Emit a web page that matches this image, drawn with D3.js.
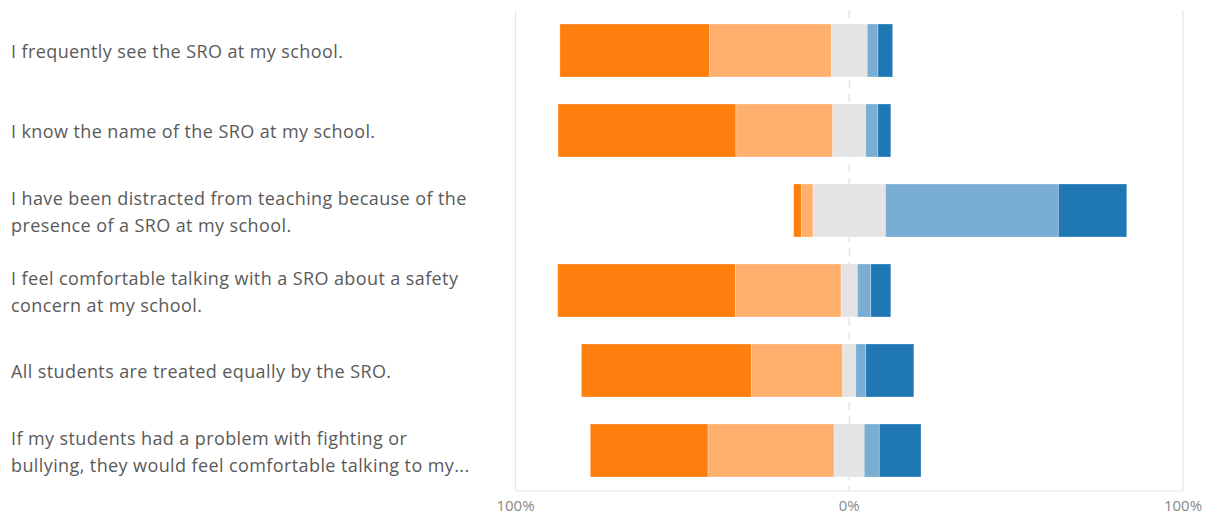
<!DOCTYPE html>
<html>
<head>
<meta charset="utf-8">
<script src="https://cdn.jsdelivr.net/npm/d3@7"></script>
<style>
  html, body { margin: 0; padding: 0; background: #fff; }
  svg { display: block; }
  text { font-family: "Open Sans", "Noto Sans", sans-serif; }
</style>
</head>
<body>
<svg id="chart" width="1215" height="516"></svg>
<script>
// Survey statements (rows, top to bottom)
const statements = [
  ["I frequently see the SRO at my school."],
  ["I know the name of the SRO at my school."],
  ["I have been distracted from teaching because of the", "presence of a SRO at my school."],
  ["I feel comfortable talking with a SRO about a safety", "concern at my school."],
  ["All students are treated equally by the SRO."],
  ["If my students had a problem with fighting or", "bullying, they would feel comfortable talking to my..."]
];

// Response levels, left to right
const levels = ["Strongly agree", "Agree", "Neutral", "Disagree", "Strongly disagree"];
const levelColors = ["#ff7f0e", "#ffb06d", "#e4e4e4", "#7aadd3", "#1f77b4"];

// Percent of responses per level, one array per level (rows in statement order)
const stronglyAgree    = [44.9, 53.3, 2.3, 53.3, 50.9, 35.3];
const agree            = [36.4, 29.0, 3.5, 31.6, 27.4, 37.8];
const neutral          = [10.8,  9.9, 21.7, 4.9,  3.9,  9.0];
const disagree         = [ 3.2,  3.6, 51.8, 4.0,  3.0,  4.5];
const stronglyDisagree = [ 4.4,  3.9, 20.5, 6.0, 14.4, 12.5];

// Axis ticks
const tickValues = [-100, 0, 100];
const tickLabels = ["100%", "0%", "100%"];

const seriesValues = [stronglyAgree, agree, neutral, disagree, stronglyDisagree];

// Build diverging segments: neutral straddles zero
const rows = statements.map((s, i) => {
  const v = seriesValues.map(a => a[i]);
  let start = -(v[0] + v[1] + v[2] / 2);
  const segs = v.map((val, k) => {
    const seg = { level: k, x0: start, x1: start + val, value: val };
    start += val;
    return seg;
  });
  return { index: i, label: s, segs };
});

const svg = d3.select("#chart");

const x = d3.scaleLinear().domain([-100, 100]).range([515.5, 1183]);
const y = d3.scaleBand()
  .domain(d3.range(statements.length))
  .range([10.5, 490.5])
  .paddingInner(0.3375)
  .paddingOuter(0.16875);

const grid = svg.append("g");
// Outer grid lines at the ends of the scale
grid.selectAll("line.edge")
  .data([-100, 100])
  .join("line")
  .attr("class", "edge")
  .attr("x1", d => x(d)).attr("x2", d => x(d))
  .attr("y1", 10).attr("y2", 491)
  .attr("stroke", "#e8e8e8").attr("stroke-width", 1.2);
// Baseline
grid.append("line")
  .attr("x1", x(-100)).attr("x2", x(100))
  .attr("y1", 491).attr("y2", 491)
  .attr("stroke", "#e8e8e8").attr("stroke-width", 1.2);
// Dashed zero line
grid.append("line")
  .attr("x1", x(0)).attr("x2", x(0))
  .attr("y1", 10).attr("y2", 491)
  .attr("stroke", "#e0e0e0").attr("stroke-width", 1.2)
  .attr("stroke-dasharray", "8,6");

// Bars
const rowG = svg.append("g").selectAll("g")
  .data(rows)
  .join("g")
  .attr("transform", d => `translate(0,${y(d.index)})`);

rowG.selectAll("rect")
  .data(d => d.segs)
  .join("rect")
  .attr("x", d => x(d.x0))
  .attr("width", d => x(d.x1) - x(d.x0))
  .attr("y", 0)
  .attr("height", y.bandwidth())
  .attr("fill", d => levelColors[d.level])
  .attr("stroke", "#fff")
  .attr("stroke-opacity", 0.35)
  .attr("stroke-width", 0.8);

// Category labels
const labelG = svg.append("g");
rows.forEach(r => {
  const cy = y(r.index) + y.bandwidth() / 2 + 1.5;
  const n = r.label.length;
  const lh = 27;
  const t = labelG.append("text")
    .attr("x", 11)
    .attr("fill", "#5a5a5a")
    .attr("font-size", 18)
    .attr("letter-spacing", 0.4);
  r.label.forEach((line, k) => {
    t.append("tspan")
      .attr("x", 11)
      .attr("y", cy + (k - (n - 1) / 2) * lh)
      .attr("dy", "0.35em")
      .text(line);
  });
});

// Axis tick labels
svg.append("g").selectAll("text")
  .data(tickValues)
  .join("text")
  .attr("x", d => x(d))
  .attr("y", 506)
  .attr("dy", "0.35em")
  .attr("text-anchor", "middle")
  .attr("fill", "#888")
  .attr("font-size", 15)
  .text((d, i) => tickLabels[i]);
</script>
</body>
</html>
